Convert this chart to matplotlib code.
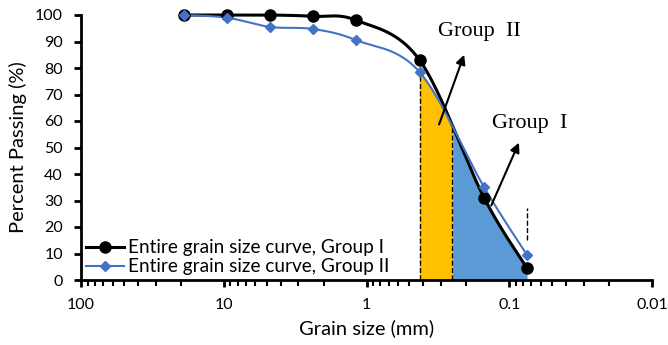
import numpy as np
import matplotlib
matplotlib.use("Agg")
import matplotlib.pyplot as plt
from matplotlib.ticker import LogLocator, FixedLocator, FixedFormatter, NullFormatter

# sieve sizes (mm) and percent passing
sieve_mm = [19, 9.5, 4.75, 2.36, 1.18, 0.425, 0.15, 0.075]
group1 = [100, 100, 100, 99.5, 98, 83, 31, 4.5]
group2 = [100, 99, 95.5, 94.7, 90.5, 78.5, 35, 9.4]

x_ticks = [100, 10, 1, 0.1, 0.01]
x_tick_labels = ["100", "10", "1", "0.1", "0.01"]
split_mm = [0.425, 0.25, 0.075]

plt.rcParams["font.family"] = ["Lato", "DejaVu Sans"]


def smooth_curve(x, y, steps=40):
    # Catmull-Rom style bezier through the points, computed in log10(x) space
    lx = np.log10(np.asarray(x, float))
    y = np.asarray(y, float)
    n = len(lx)
    t = np.linspace(0, 1, steps)[:, None]
    out = []
    for i in range(n - 1):
        a = max(i - 1, 0)
        b = min(i + 2, n - 1)
        p0 = np.array([lx[i], y[i]])
        p3 = np.array([lx[i + 1], y[i + 1]])
        p1 = p0 + (p3 - np.array([lx[a], y[a]])) / 6
        p2 = p3 - (np.array([lx[b], y[b]]) - p0) / 6
        seg = ((1 - t) ** 3) * p0 + 3 * ((1 - t) ** 2) * t * p1 + 3 * (1 - t) * t ** 2 * p2 + t ** 3 * p3
        out.append(seg if i == 0 else seg[1:])
    pts = np.vstack(out)
    return 10 ** pts[:, 0], pts[:, 1]


fig = plt.figure(figsize=(6.68, 3.45), dpi=100)
ax = fig.add_axes([81 / 668, 1 - 280 / 345, (652 - 81) / 668, 265 / 345])

cx1, cy1 = smooth_curve(sieve_mm, group1)
cx2, cy2 = smooth_curve(sieve_mm, group2)

# shaded zones under the lower of the two curves
grid = np.logspace(np.log10(split_mm[2]), np.log10(split_mm[0]), 300)
y1 = np.interp(np.log10(grid), np.log10(cx1[::-1]), cy1[::-1])
y2 = np.interp(np.log10(grid), np.log10(cx2[::-1]), cy2[::-1])
low = np.minimum(y1, y2)
ax.fill_between(grid, 0, low, where=grid >= split_mm[1], color="#FFC000", lw=0, zorder=1)
ax.fill_between(grid, 0, low, where=grid <= split_mm[1], color="#5B9BD5", lw=0, zorder=1)

top_a = np.interp(np.log10(split_mm[0]), np.log10(grid), low)
top_b = np.interp(np.log10(split_mm[1]), np.log10(grid), low)
ax.plot([split_mm[0]] * 2, [0, top_a], ls="--", color="black", lw=1, zorder=2)
ax.plot([split_mm[1]] * 2, [0, top_b], ls="--", color="black", lw=1, zorder=2)
ax.plot([split_mm[2]] * 2, [15, 27], ls="--", color="black", lw=1, zorder=2)

ax.plot(cx1, cy1, color="black", lw=2.2, zorder=3, clip_on=False)
ax.plot(sieve_mm, group1, "o", color="black", ms=8, zorder=4, clip_on=False)
ax.plot(cx2, cy2, color="#4472C4", lw=1.5, zorder=3, clip_on=False)
ax.plot(sieve_mm, group2, "D", color="#4472C4", ms=5.5, zorder=4, clip_on=False)

# legend proxies
ax.plot([], [], "-o", color="black", lw=2.2, ms=8, label="Entire grain size curve, Group I")
ax.plot([], [], "-D", color="#4472C4", lw=1.5, ms=5.5, label="Entire grain size curve, Group II")
ax.legend(loc="lower left", bbox_to_anchor=(0.0, 0.0), frameon=False, fontsize=13.7,
          handlelength=2.0, handletextpad=0.2, labelspacing=0.1, borderaxespad=0.0,
          borderpad=0.25)

# group labels and arrows
serif = ["Liberation Serif", "DejaVu Serif"]
ax.annotate("", xy=(0.204, 86), xytext=(0.315, 57.7),
            arrowprops=dict(arrowstyle="-|>", color="black", lw=1.5, mutation_scale=14))
ax.text(0.163, 93.6, "Group  II", family=serif, fontsize=16, ha="center", va="center")
ax.annotate("", xy=(0.084, 52.8), xytext=(0.136, 27.2),
            arrowprops=dict(arrowstyle="-|>", color="black", lw=1.5, mutation_scale=14))
ax.text(0.0714, 58.9, "Group  I", family=serif, fontsize=16, ha="center", va="center")

ax.set_xscale("log")
ax.set_xlim(100, 0.01)
ax.set_ylim(0, 100)
ax.xaxis.set_major_locator(FixedLocator(x_ticks))
ax.xaxis.set_major_formatter(FixedFormatter(x_tick_labels))
ax.xaxis.set_minor_locator(LogLocator(base=10, subs=np.arange(2, 10)))
ax.xaxis.set_minor_formatter(NullFormatter())
ax.set_yticks(range(0, 101, 10))

for side in ("top", "right"):
    ax.spines[side].set_visible(False)
for side in ("left", "bottom"):
    ax.spines[side].set_linewidth(2)
ax.tick_params(axis="both", which="major", direction="out", width=2, length=5, labelsize=11.5, pad=8)
ax.tick_params(axis="x", which="minor", direction="out", width=1.5, length=4)

ax.set_xlabel("Grain size (mm)", fontsize=14.5, labelpad=5)
ax.set_ylabel("Percent Passing (%)", fontsize=14.5, labelpad=6)

fig.savefig("out.png", dpi=100)
